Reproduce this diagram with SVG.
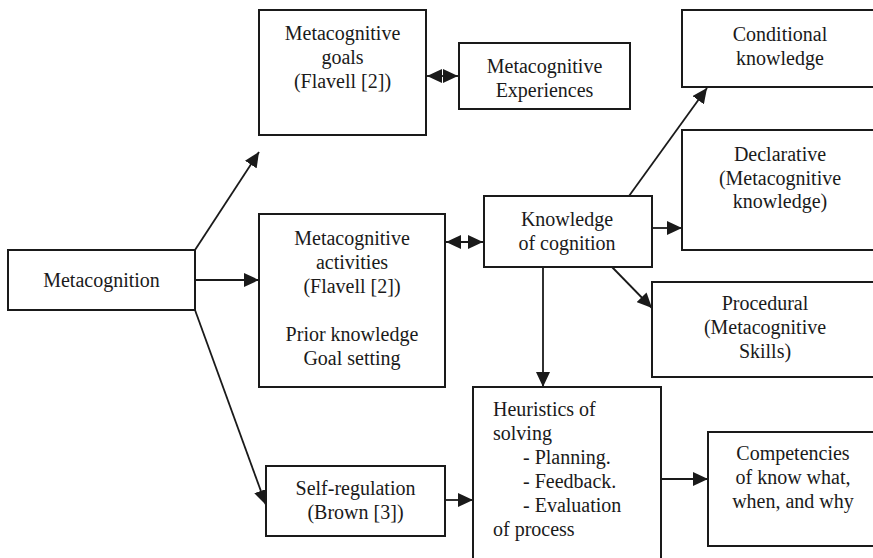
<svg xmlns="http://www.w3.org/2000/svg" width="873" height="558" viewBox="0 0 873 558">
  <defs>
    <marker id="arrow" viewBox="0 0 15 14" refX="15" refY="7" markerWidth="15" markerHeight="14" markerUnits="userSpaceOnUse" orient="auto-start-reverse">
      <path d="M0,0 L15,7 L0,14 z" fill="#1a1a1a"/>
    </marker>
  </defs>
  <style>
    .box { fill: #ffffff; stroke: #1a1a1a; stroke-width: 2; }
    .lbl { font-family: 'Liberation Serif', 'Times New Roman', Times, 'Noto Serif', Tinos, 'DejaVu Serif', serif; font-size: 20px; fill: #1a1a1a; }
    .c { text-anchor: middle; }
    .edge { stroke: #1a1a1a; stroke-width: 1.8; fill: none; marker-end: url(#arrow); }
    .both { marker-start: url(#arrow); }
  </style>
  <rect width="873" height="558" fill="#ffffff"/>

  <g id="connectors">
    <line class="edge" x1="195" y1="250" x2="259" y2="152"/>
    <line class="edge" x1="195" y1="280" x2="259" y2="280"/>
    <line class="edge" x1="195" y1="310" x2="266" y2="505"/>
    <line class="edge both" x1="427" y1="76" x2="458" y2="76"/>
    <line class="edge both" x1="446" y1="242" x2="483" y2="242"/>
    <line class="edge" x1="629" y1="196" x2="707" y2="88"/>
    <line class="edge" x1="652" y1="228" x2="682" y2="228"/>
    <line class="edge" x1="612" y1="267" x2="652" y2="308"/>
    <line class="edge" x1="543" y1="267" x2="543" y2="387"/>
    <line class="edge" x1="445" y1="500" x2="473" y2="500"/>
    <line class="edge" x1="661" y1="479" x2="708" y2="479"/>
  </g>

  <g id="metacognition">
    <rect class="box" x="8" y="250" width="187" height="60"/>
    <text class="lbl c" x="101.5" y="287">Metacognition</text>
  </g>

  <g id="metacognitive-goals">
    <rect class="box" x="259" y="10" width="167" height="125"/>
    <text class="lbl c" x="342.5" y="40">Metacognitive</text>
    <text class="lbl c" x="342.5" y="64">goals</text>
    <text class="lbl c" x="342.5" y="88">(Flavell [2])</text>
  </g>

  <g id="metacognitive-experiences">
    <rect class="box" x="459" y="43" width="171" height="66"/>
    <text class="lbl c" x="544.5" y="73">Metacognitive</text>
    <text class="lbl c" x="544.5" y="97">Experiences</text>
  </g>

  <g id="metacognitive-activities">
    <rect class="box" x="259" y="214" width="186" height="173"/>
    <text class="lbl c" x="352" y="245">Metacognitive</text>
    <text class="lbl c" x="352" y="269">activities</text>
    <text class="lbl c" x="352" y="293">(Flavell [2])</text>
    <text class="lbl c" x="352" y="341">Prior knowledge</text>
    <text class="lbl c" x="352" y="365">Goal setting</text>
  </g>

  <g id="self-regulation">
    <rect class="box" x="266" y="466" width="179" height="70"/>
    <text class="lbl c" x="355.5" y="495">Self-regulation</text>
    <text class="lbl c" x="355.5" y="519">(Brown [3])</text>
  </g>

  <g id="knowledge-of-cognition">
    <rect class="box" x="484" y="196" width="168" height="71"/>
    <text class="lbl c" x="567" y="226">Knowledge</text>
    <text class="lbl c" x="567" y="250">of cognition</text>
  </g>

  <g id="conditional-knowledge">
    <rect class="box" x="682" y="10" width="198" height="77"/>
    <text class="lbl c" x="780" y="41">Conditional</text>
    <text class="lbl c" x="780" y="65">knowledge</text>
  </g>

  <g id="declarative">
    <rect class="box" x="682" y="130" width="198" height="120"/>
    <text class="lbl c" x="780" y="161">Declarative</text>
    <text class="lbl c" x="780" y="185">(Metacognitive</text>
    <text class="lbl c" x="780" y="208">knowledge)</text>
  </g>

  <g id="procedural">
    <rect class="box" x="652" y="282" width="228" height="95"/>
    <text class="lbl c" x="765" y="310">Procedural</text>
    <text class="lbl c" x="765" y="334">(Metacognitive</text>
    <text class="lbl c" x="765" y="358">Skills)</text>
  </g>

  <g id="heuristics-of-solving">
    <rect class="box" x="473" y="387" width="188" height="180"/>
    <text class="lbl" x="493" y="416">Heuristics of</text>
    <text class="lbl" x="493" y="440">solving</text>
    <text class="lbl" x="523" y="464">- Planning.</text>
    <text class="lbl" x="523" y="488">- Feedback.</text>
    <text class="lbl" x="523" y="512">- Evaluation</text>
    <text class="lbl" x="493" y="536">of process</text>
  </g>

  <g id="competencies">
    <rect class="box" x="708" y="432" width="172" height="114"/>
    <text class="lbl c" x="793" y="460">Competencies</text>
    <text class="lbl c" x="793" y="484">of know what,</text>
    <text class="lbl c" x="793" y="508">when, and why</text>
  </g>
</svg>
